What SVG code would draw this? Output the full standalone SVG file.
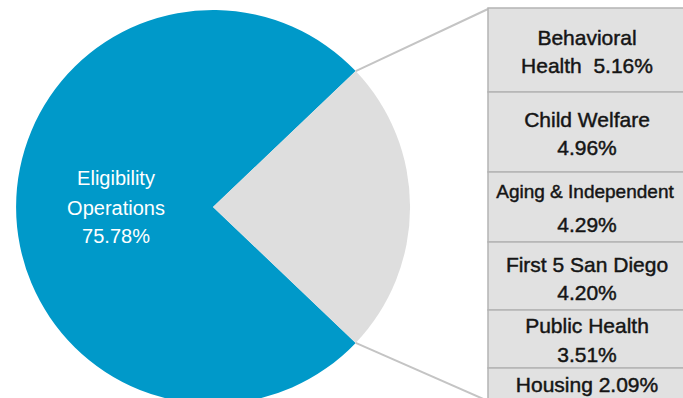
<svg xmlns="http://www.w3.org/2000/svg" width="683" height="398" viewBox="0 0 683 398">
<style>
.seg{fill:#e1e1e1;stroke:#b4b4b4;stroke-width:1.5}
.lbl{font-family:"Liberation Sans",Arial,sans-serif;font-size:21px;fill:#151515;stroke:#151515;stroke-width:0.45;text-anchor:middle;white-space:pre}
.pl{font-family:"Liberation Sans",Arial,sans-serif;font-size:20px;fill:#ffffff;text-anchor:middle}
.con{stroke:#c4c4c4;stroke-width:2;fill:none}
</style>
<rect width="683" height="398" fill="#ffffff"/>
<g id="pie">
<g id="eligibility">
<path d="M213,207 L355.7,71.1 A197,197 0 1 0 355.7,342.9 Z" fill="#0099c9"/>
<text class="pl" x="116" y="185">Eligibility</text>
<text class="pl" x="116" y="215">Operations</text>
<text class="pl" x="116" y="243">75.78%</text>
</g>
<g id="other">
<path d="M213,207 L355.7,71.1 A197,197 0 0 1 355.7,342.9 Z" fill="#dedede"/>
</g>
</g>
<g id="connectors">
<line class="con" x1="355.7" y1="71.1" x2="488" y2="9"/>
<line class="con" x1="355.7" y1="342.9" x2="488" y2="401"/>
</g>
<g id="bar">
<g id="behavioral">
<rect class="seg" x="488" y="8" width="200" height="84"/>
<text class="lbl" x="587" y="45">Behavioral</text>
<text class="lbl" x="587" y="73">Health  5.16%</text>
</g>
<g id="child">
<rect class="seg" x="488" y="92" width="200" height="80"/>
<text class="lbl" x="587" y="127">Child Welfare</text>
<text class="lbl" x="587" y="155">4.96%</text>
</g>
<g id="aging">
<rect class="seg" x="488" y="172" width="200" height="70"/>
<text class="lbl" x="585" y="198" style="font-size:19px">Aging &amp; Independent</text>
<text class="lbl" x="587" y="232">4.29%</text>
</g>
<g id="first5">
<rect class="seg" x="488" y="242" width="200" height="68"/>
<text class="lbl" x="587" y="272">First 5 San Diego</text>
<text class="lbl" x="587" y="300">4.20%</text>
</g>
<g id="publichealth">
<rect class="seg" x="488" y="310" width="200" height="58"/>
<text class="lbl" x="587" y="333">Public Health</text>
<text class="lbl" x="587" y="362">3.51%</text>
</g>
<g id="housing">
<rect class="seg" x="488" y="368" width="200" height="36"/>
<text class="lbl" x="587" y="392">Housing 2.09%</text>
</g>
</g>
</svg>
